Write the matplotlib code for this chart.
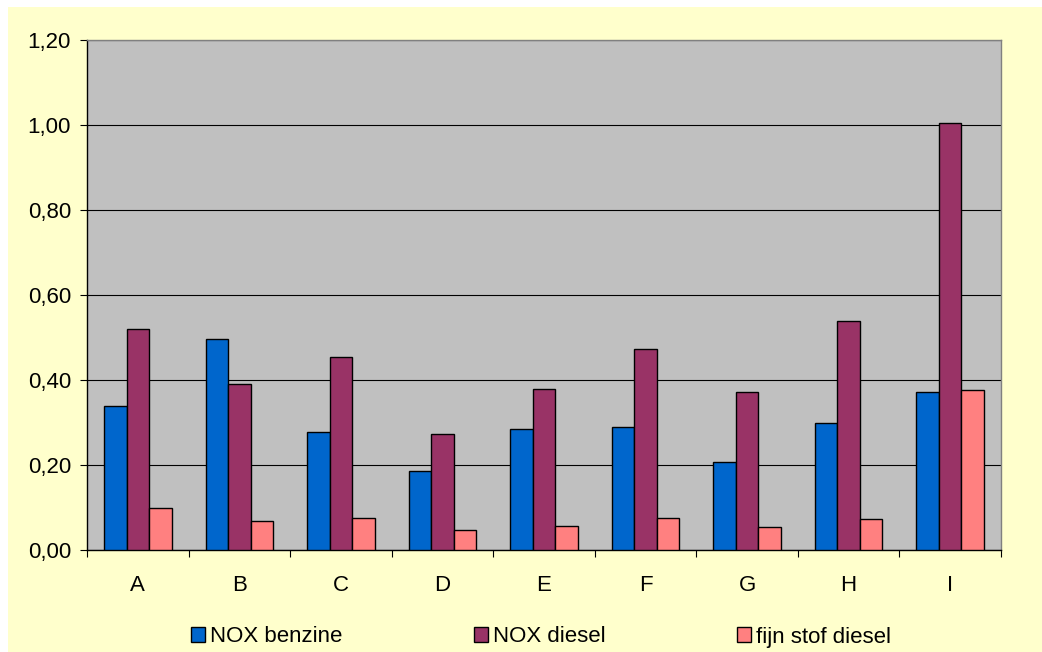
import matplotlib
matplotlib.use('Agg')
import matplotlib.pyplot as plt
import matplotlib.ticker as mticker
from matplotlib.patches import Rectangle
import numpy as np

categories = ['A', 'B', 'C', 'D', 'E', 'F', 'G', 'H', 'I']
nox_benzine = [0.34, 0.496, 0.278, 0.186, 0.285, 0.289, 0.207, 0.299, 0.371]
nox_diesel = [0.52, 0.39, 0.453, 0.272, 0.380, 0.473, 0.372, 0.539, 1.005]
fijn_stof_diesel = [0.098, 0.068, 0.076, 0.047, 0.056, 0.075, 0.055, 0.073, 0.376]
series_names = ['NOX benzine', 'NOX diesel', 'fijn stof diesel']
colors = ['#0066CC', '#993366', '#FF8080']

plt.rcParams['font.family'] = ['Liberation Sans', 'DejaVu Sans']

fig = plt.figure(figsize=(10.42, 6.52), dpi=100, facecolor='white')
# yellow chart area, with the small white strip at top and left
fig.patches.append(Rectangle((8 / 1042, 0), 1, 1 - 7 / 652, transform=fig.transFigure,
                             facecolor='#FFFFCC', edgecolor='none', zorder=-10))

ax = fig.add_axes([87 / 1042, 102 / 652, 914 / 1042, 510 / 652])
ax.set_facecolor('#C0C0C0')

x = np.arange(len(categories))
w = 0.222
for k, (vals, col, name) in enumerate(zip([nox_benzine, nox_diesel, fijn_stof_diesel],
                                          colors, series_names)):
    ax.bar(x + (k - 1) * w, vals, width=w, color=col, edgecolor='black',
           linewidth=1.0, label=name, zorder=3)

ax.set_xlim(-0.5, len(categories) - 0.5)
ax.set_ylim(0, 1.2)
ax.yaxis.set_major_locator(mticker.MultipleLocator(0.2))
ax.yaxis.set_major_formatter(mticker.FuncFormatter(lambda v, p: f'{v:.2f}'.replace('.', ',')))
ax.grid(axis='y', color='black', linewidth=0.8, zorder=1)

ax.set_xticks(np.arange(-0.5, len(categories)))
ax.set_xticklabels([])
ax.set_xticks(x, minor=True)
ax.set_xticklabels(categories, minor=True)
ax.tick_params(axis='x', which='major', direction='out', length=5, width=0.8, color='black')
ax.tick_params(axis='x', which='minor', length=0, pad=18, labelsize=16)
ax.tick_params(axis='y', direction='out', length=5, width=0.8, pad=6.5, labelsize=16)

for s in ['left', 'bottom']:
    ax.spines[s].set_color('black')
    ax.spines[s].set_linewidth(1.0)
for s in ['top', 'right']:
    ax.spines[s].set_color('#808080')
    ax.spines[s].set_linewidth(1.0)

leg = fig.legend(loc='center', bbox_to_anchor=(541 / 1042, 15 / 652), ncol=3,
                 frameon=False, fontsize=16, handlelength=0.63, handleheight=0.63,
                 handletextpad=0.23, columnspacing=5.9)

fig.savefig('out.png', dpi=100, facecolor=fig.get_facecolor())
